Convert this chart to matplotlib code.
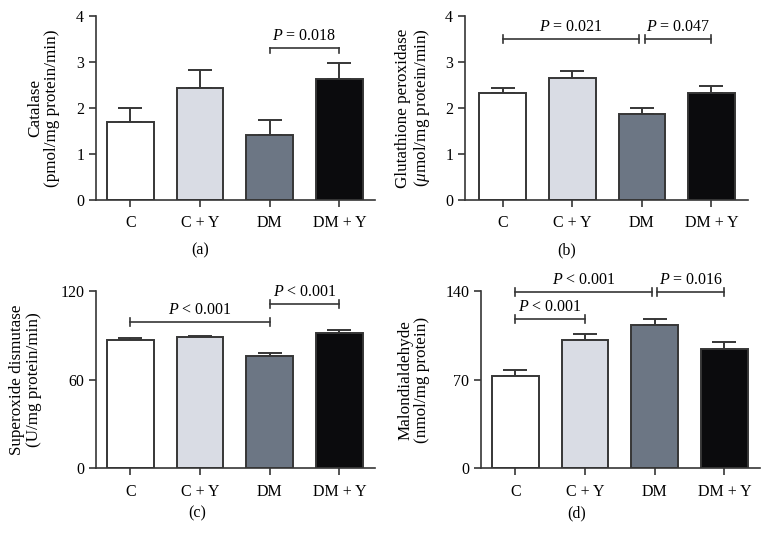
"""
Antioxidant enzymes and malondialdehyde in the four groups (bar charts, mean + SEM)
"""

import matplotlib
matplotlib.use("Agg")
import matplotlib.pyplot as plt
import numpy as np

# ==================== Data ====================

groups = ["C", "C + Y", "DM", "DM + Y"]

catalase_mean = [1.70, 2.43, 1.41, 2.64]
catalase_err = [0.29, 0.40, 0.32, 0.34]

gpx_mean = [2.33, 2.66, 1.88, 2.33]
gpx_err = [0.11, 0.14, 0.13, 0.14]

sod_mean = [86.6, 88.6, 76.0, 91.7]
sod_err = [1.8, 1.1, 2.0, 1.7]

mda_mean = [72.9, 101.3, 112.9, 94.4]
mda_err = [4.7, 5.0, 5.2, 5.3]

# brackets: (start group, end group, height, label, tick style)
catalase_brackets = [(2, 3, 3.30, "$P$ = 0.018", "down")]
gpx_brackets = [(0, 1.96, 3.50, "$P$ = 0.021", "both"),
                (2.04, 3, 3.50, "$P$ = 0.047", "both")]
sod_brackets = [(0, 2, 99.0, "$P$ < 0.001", "both"),
                (2, 3, 111.2, "$P$ < 0.001", "both")]
mda_brackets = [(0, 1, 118.1, "$P$ < 0.001", "both"),
                (0, 1.96, 139.4, "$P$ < 0.001", "both"),
                (2.04, 3, 139.4, "$P$ = 0.016", "both")]

bar_colors = ["#ffffff", "#d9dce4", "#6c7684", "#0b0b0d"]
edge = "#363636"

plt.rcParams["font.family"] = ["Liberation Serif", "DejaVu Serif"]
plt.rcParams["mathtext.fontset"] = "custom"
plt.rcParams["mathtext.it"] = "Liberation Serif:italic"
plt.rcParams["mathtext.rm"] = "Liberation Serif"

# ========================================================================================


def draw_panel(ax, means, errs, ymax, yticks, ylabel, brackets, label_x, xlim):
    x = np.arange(len(groups))
    ax.bar(x, means, width=0.67, color=bar_colors, edgecolor=edge, linewidth=1.4, zorder=2)
    ax.errorbar(x, means, yerr=[np.zeros(len(errs)), errs], fmt="none",
                ecolor=edge, elinewidth=1.4, capsize=8.5, capthick=1.4, zorder=1)
    ax.set_xlim(*xlim)
    ax.set_ylim(0, ymax)
    ax.set_yticks(yticks)
    ax.set_xticks(x)
    ax.set_xticklabels(groups)
    ax.tick_params(labelsize=11.5, color=edge, width=1.2, length=5)
    ax.tick_params(axis="x", pad=6)
    for side in ["top", "right"]:
        ax.spines[side].set_visible(False)
    for side in ["left", "bottom"]:
        ax.spines[side].set_color(edge)
        ax.spines[side].set_linewidth(1.2)
    ax.set_ylabel(ylabel, fontsize=12.3, linespacing=1.05)
    ax.yaxis.set_label_coords(label_x, 0.5)

    tick = ymax * 0.023
    for x0, x1, h, text, style in brackets:
        ax.plot([x0, x1], [h, h], color=edge, lw=1.2, clip_on=False)
        for xe in (x0, x1):
            if style == "down":
                ax.plot([xe, xe], [h, h - 1.2 * tick], color=edge, lw=1.2, clip_on=False)
            else:
                ax.plot([xe, xe], [h - tick, h + tick], color=edge, lw=1.2, clip_on=False)
        ax.text((x0 + x1) / 2, h + ymax * 0.022, text, ha="center", va="bottom",
                fontsize=11.5, clip_on=False)


fig = plt.figure(figsize=(7.7, 5.53), dpi=100)

ax_a = fig.add_axes([0.1247, 0.6383, 0.3623, 0.3327])
ax_b = fig.add_axes([0.6039, 0.6383, 0.3671, 0.3327])
ax_c = fig.add_axes([0.1247, 0.1532, 0.3623, 0.3206])
ax_d = fig.add_axes([0.6247, 0.1532, 0.3623, 0.3206])

draw_panel(ax_a, catalase_mean, catalase_err, 4, [0, 1, 2, 3, 4],
           "Catalase\n(pmol/mg protein/min)", catalase_brackets, -0.129, (-0.495, 3.51))
draw_panel(ax_b, gpx_mean, gpx_err, 4, [0, 1, 2, 3, 4],
           "Glutathione peroxidase\n($\\mu$mol/mg protein/min)", gpx_brackets, -0.117, (-0.54, 3.52))
draw_panel(ax_c, sod_mean, sod_err, 120, [0, 60, 120],
           "Superoxide dismutase\n(U/mg protein/min)", sod_brackets, -0.194, (-0.495, 3.51))
draw_panel(ax_d, mda_mean, mda_err, 140, [0, 70, 140],
           "Malondialdehyde\n(nmol/mg protein)", mda_brackets, -0.183, (-0.49, 3.51))

fig.text(200 / 770, 1 - 250 / 553, "(a)", ha="center", va="center", fontsize=11.5)
fig.text(567 / 770, 1 - 250 / 553, "(b)", ha="center", va="center", fontsize=11.5)
fig.text(197 / 770, 1 - 513 / 553, "(c)", ha="center", va="center", fontsize=11.5)
fig.text(577 / 770, 1 - 513 / 553, "(d)", ha="center", va="center", fontsize=11.5)

fig.savefig("out.png", dpi=100)
